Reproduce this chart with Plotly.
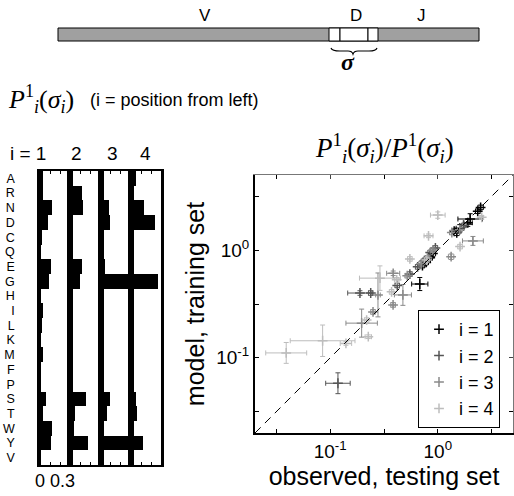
import plotly.graph_objects as go

W, H = 514, 496
def X(px): return px / W
def Y(py): return 1 - py / H

# ---------------- data ----------------
amino = ["A","R","N","D","C","Q","E","G","H","I","L","K","M","F","P","S","T","W","Y","V"]
p1 = [0.03,0.03,0.12,0.08,0.02,0.01,0.11,0.09,0.01,0.03,0.02,0.01,0.03,0.01,0.01,0.06,0.03,0.12,0.11,0.01]
p2 = [0.02,0.12,0.13,0.03,0.01,0.01,0.12,0.10,0.01,0.02,0.01,0.01,0.01,0.01,0.01,0.16,0.05,0.04,0.18,0.01]
p3 = [0.01,0.01,0.08,0.09,0.01,0.01,0.04,0.31,0.01,0.01,0.01,0.01,0.01,0.01,0.01,0.09,0.06,0.01,0.31,0.01]
p4 = [0.05,0.03,0.13,0.24,0.01,0.01,0.01,0.27,0.01,0.01,0.01,0.01,0.01,0.01,0.01,0.05,0.06,0.02,0.12,0.01]
panel_values = [p1, p2, p3, p4]
panel_labels = ["i = 1", "2", "3", "4"]

# scatter: observed (x), model (y), multiplicative error half-widths
obs1   = [2.50, 2.35, 2.00, 1.90, 1.60, 1.50, 1.42, 0.90, 0.85, 0.78, 0.68, 0.72]
mod1   = [2.50, 2.30, 1.95, 1.80, 1.60, 1.45, 1.50, 0.93, 0.85, 0.77, 0.485, 0.72]
xerr1  = [1.06, 1.05, 1.30, 1.10, 1.08, 1.06, 1.05, 1.06, 1.05, 1.05, 1.19, 1.05]
yerr1  = [1.05, 1.05, 1.12, 1.08, 1.08, 1.06, 1.05, 1.06, 1.05, 1.05, 1.15, 1.05]

obs2   = [0.189, 0.238, 0.118, 0.95, 0.85, 0.75, 0.65, 1.75, 0.55, 0.42]
mod2   = [0.40, 0.40, 0.058, 1.05, 0.95, 0.80, 0.70, 1.70, 0.60, 0.47]
xerr2  = [1.30, 1.05, 1.30, 1.05, 1.05, 1.05, 1.05, 1.05, 1.05, 1.05]
yerr2  = [1.05, 1.05, 1.25, 1.05, 1.05, 1.05, 1.05, 1.05, 1.05, 1.05]

obs3   = [2.12, 1.35, 1.33, 0.385, 0.278, 0.474, 0.384, 0.25, 0.196, 0.80, 0.90, 0.70, 1.60, 0.52]
mod3   = [1.22, 1.46, 0.87, 0.61, 0.384, 0.384, 0.31, 0.267, 0.21, 0.85, 1.00, 0.75, 1.55, 0.58]
xerr3  = [1.25, 1.05, 1.06, 1.15, 1.05, 1.20, 1.05, 1.05, 1.40, 1.05, 1.05, 1.05, 1.05, 1.05]
yerr3  = [1.10, 1.05, 1.06, 1.05, 1.60, 1.25, 1.05, 1.05, 1.35, 1.05, 1.05, 1.05, 1.05, 1.05]

obs4   = [2.56, 1.00, 1.61, 0.82, 0.79, 0.55, 0.415, 0.29, 0.372, 0.218, 0.226, 0.14, 0.085, 0.039]
mod4   = [2.02, 2.12, 1.08, 1.36, 0.81, 0.83, 0.53, 0.55, 0.41, 0.224, 0.157, 0.136, 0.144, 0.111]
xerr4  = [1.04, 1.17, 1.05, 1.10, 1.05, 1.05, 1.05, 1.55, 1.05, 1.05, 1.07, 1.13, 2.00, 1.55]
yerr4  = [1.04, 1.07, 1.05, 1.04, 1.05, 1.05, 1.05, 1.30, 1.05, 1.05, 1.04, 1.04, 1.40, 1.25]

series = [
    ("i = 1", obs1, mod1, xerr1, yerr1, "#000000"),
    ("i = 2", obs2, mod2, xerr2, yerr2, "#555555"),
    ("i = 3", obs3, mod3, xerr3, yerr3, "#8a8a8a"),
    ("i = 4", obs4, mod4, xerr4, yerr4, "#bdbdbd"),
]
diag = [0.02, 5]
log_range = [-1.699, 0.699]
major_ticks = [0.1, 1]
major_text = ["10<sup>-1</sup>", "10<sup>0</sup>"]
minor_ticks = [10**-1.5, 10**-0.5, 10**0.5]

# ---------------- figure ----------------
fig = go.Figure()
FONT = "Liberation Sans, Arial, sans-serif"
SERIF = "Liberation Serif, DejaVu Serif, serif"

# left panels
panel_px = [(40, 70), (70, 100.5), (100.5, 131), (131, 161)]
for k, vals in enumerate(panel_values):
    xa = "x" if k == 0 else f"x{k+1}"
    ya = "y" if k == 0 else f"y{k+1}"
    fig.add_trace(go.Bar(x=vals, y=amino, orientation="h", width=1,
                         marker=dict(color="black", line=dict(width=0)),
                         xaxis=xa, yaxis=ya, showlegend=False, hoverinfo="skip"))
    xkey = "xaxis" if k == 0 else f"xaxis{k+1}"
    ykey = "yaxis" if k == 0 else f"yaxis{k+1}"
    a, b = panel_px[k]
    fig.update_layout(**{
        xkey: dict(domain=[X(a), X(b)], anchor=ya, range=[0, 0.3],
                   tickvals=[0.1, 0.2], ticks="inside", ticklen=3, tickcolor="black",
                   showticklabels=False, showline=True, linecolor="black", linewidth=1.5,
                   mirror="ticks", showgrid=False, zeroline=False, fixedrange=True),
        ykey: dict(domain=[Y(465), Y(171)], anchor=xa, type="category",
                   categoryorder="array", categoryarray=amino,
                   tickmode="array", tickvals=amino, ticktext=amino,
                   range=[19.5, -0.5], showline=True, linecolor="black", linewidth=2.5,
                   mirror=True, ticks="", showgrid=False, zeroline=False,
                   showticklabels=(k == 0), ticklabelstandoff=20,
                   tickfont=dict(family=FONT, size=12.5, color="black")),
    })

# scatter panel
for name, xo, ym, fx, fy, col in series:
    fig.add_trace(go.Scatter(
        x=xo, y=ym, mode="markers", name=name, xaxis="x5", yaxis="y5",
        marker=dict(symbol="cross-thin", size=7, color=col, line=dict(width=1.5, color=col)),
        error_x=dict(type="data", symmetric=False,
                     array=[v * f - v for v, f in zip(xo, fx)],
                     arrayminus=[v - v / f for v, f in zip(xo, fx)],
                     color=col, thickness=1, width=2.5),
        error_y=dict(type="data", symmetric=False,
                     array=[v * f - v for v, f in zip(ym, fy)],
                     arrayminus=[v - v / f for v, f in zip(ym, fy)],
                     color=col, thickness=1, width=2.5),
        hoverinfo="skip"))
fig.add_trace(go.Scatter(x=diag, y=diag, mode="lines", xaxis="x5", yaxis="y5",
                         line=dict(color="black", width=1, dash="8px,6px"),
                         showlegend=False, hoverinfo="skip"))
# invisible trace for the top/right frame axes
fig.add_trace(go.Scatter(x=diag, y=diag, mode="lines", xaxis="x6", yaxis="y6",
                         line=dict(width=0), opacity=0, showlegend=False, hoverinfo="skip"))

minor = dict(tickmode="array", tickvals=minor_ticks, ticks="inside", ticklen=4,
             tickcolor="black", showgrid=False)
axcommon = dict(type="log", range=log_range, tickmode="array", tickvals=major_ticks,
                ticktext=major_text, ticks="inside", ticklen=4, tickcolor="black",
                showgrid=False, zeroline=False, minor=minor,
                tickfont=dict(family=FONT, size=19, color="black"))
framecommon = dict(type="log", range=log_range, tickmode="array", tickvals=major_ticks,
                   ticks="inside", ticklen=4, tickcolor="#444", minor=minor,
                   showticklabels=False, showline=True, linecolor="#777",
                   linewidth=1, showgrid=False, zeroline=False)
fig.update_layout(
    xaxis5=dict(domain=[X(255), X(513)], anchor="y5", showline=True, linecolor="black", linewidth=2,
                title=dict(text="observed, testing set", font=dict(family=FONT, size=25, color="black"), standoff=2),
                **axcommon),
    yaxis5=dict(domain=[Y(433), Y(175)], anchor="x5", showline=True, linecolor="black", linewidth=2,
                title=dict(text="model, training set", font=dict(family=FONT, size=25, color="black"), standoff=4),
                **axcommon),
    xaxis6=dict(domain=[X(255), X(513)], anchor="y6", side="top", overlaying="x5", **framecommon),
    yaxis6=dict(domain=[Y(433), Y(175)], anchor="x6", side="right", overlaying="y5", **framecommon),
)

shapes = []
# gene schematic
shapes.append(dict(type="rect", xref="paper", yref="paper", x0=X(58), x1=X(479), y0=Y(41), y1=Y(28),
                   fillcolor="#a0a0a0", line=dict(color="black", width=1)))
for a, b in [(329, 340), (340, 368), (368, 378)]:
    shapes.append(dict(type="rect", xref="paper", yref="paper", x0=X(a), x1=X(b), y0=Y(41), y1=Y(28),
                       fillcolor="white", line=dict(color="black", width=1)))
# brace
shapes.append(dict(type="path", xref="paper", yref="paper",
                   path=(f"M {X(331)},{Y(48)} Q {X(332)},{Y(51)} {X(340)},{Y(51)} L {X(348)},{Y(51)} "
                         f"Q {X(352)},{Y(51)} {X(353)},{Y(54)} Q {X(354)},{Y(51)} {X(358)},{Y(51)} "
                         f"L {X(369)},{Y(51)} Q {X(376)},{Y(51)} {X(377)},{Y(48)}"),
                   line=dict(color="black", width=1.2)))
fig.update_layout(shapes=shapes)

ann = []
def txt(px, py, s, size, family=FONT, xanchor="center", **kw):
    ann.append(dict(x=X(px), y=Y(py), xref="paper", yref="paper", text=s, showarrow=False,
                    xanchor=xanchor, yanchor="middle", font=dict(family=family, size=size, color="black"), **kw))
txt(205, 15, "V", 17)
txt(356, 15, "D", 17)
txt(421, 15, "J", 17)
txt(348, 62, "<b><i>σ</i></b>", 24, family=SERIF)
txt(6, 99, "<i>P</i><sup>1</sup><sub><i>i</i></sub>(<i>σ</i><sub><i>i</i></sub>)", 26, family=SERIF, xanchor="left")
txt(88, 100, "(i = position from left)", 18, xanchor="left")
txt(48, 153, panel_labels[0], 19, xanchor="right")
txt(76, 153, panel_labels[1], 19)
txt(112, 153, panel_labels[2], 19)
txt(145, 153, panel_labels[3], 19)
txt(55, 481, "0 0.3", 18)
txt(384, 148, "<i>P</i><sup>1</sup><sub><i>i</i></sub>(<i>σ</i><sub><i>i</i></sub>)/<i>P</i><sup>1</sup>(<i>σ</i><sub><i>i</i></sub>)", 27, family=SERIF)

fig.update_layout(
    annotations=ann,
    width=W, height=H, margin=dict(l=0, r=0, t=0, b=0),
    paper_bgcolor="white", plot_bgcolor="white",
    bargap=0,
    legend=dict(x=X(418), y=Y(310), xanchor="left", yanchor="top",
                bgcolor="white", bordercolor="black", borderwidth=1,
                font=dict(family=FONT, size=18, color="black"),
                itemwidth=30, tracegroupgap=0),
)
fig.write_html("out.html", config={"displayModeBar": False},
               post_script="document.body.style.margin='0px';")
